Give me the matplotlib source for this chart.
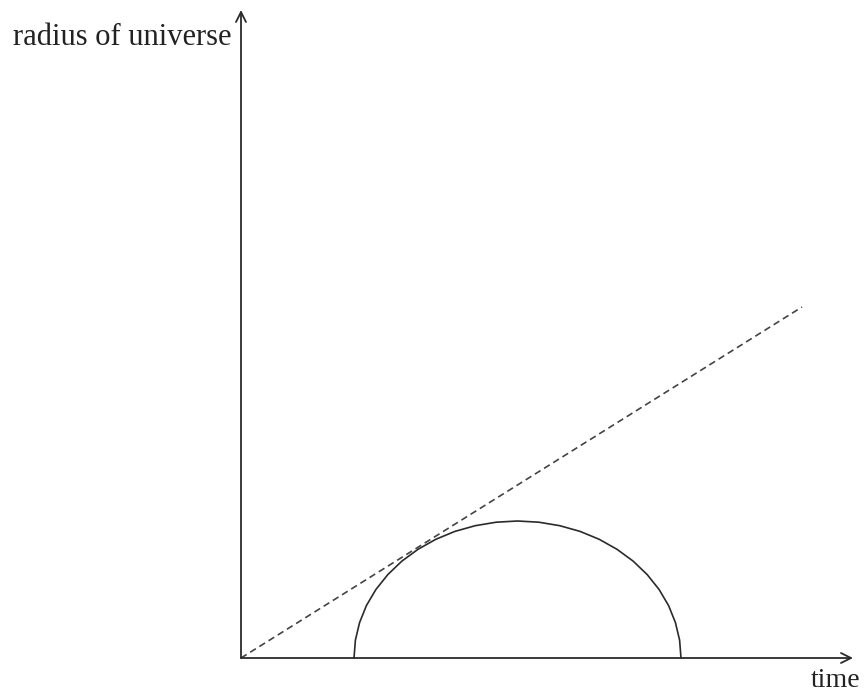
import matplotlib
matplotlib.use('Agg')
import matplotlib.pyplot as plt

# closed-universe curve (time, radius)
curve_t = [11.30, 11.44, 11.86, 12.54, 13.49, 14.68, 16.09, 17.70, 19.48, 21.39,
           23.42, 25.52, 27.65, 29.78, 31.88, 33.91, 35.82, 37.60, 39.21, 40.62,
           41.81, 42.76, 43.44, 43.86, 44.00]
curve_r = [0.00, 1.79, 3.55, 5.24, 6.85, 8.34, 9.69, 10.87, 11.87, 12.66,
           13.23, 13.58, 13.70, 13.58, 13.23, 12.66, 11.87, 10.87, 9.69, 8.34,
           6.85, 5.24, 3.55, 1.79, 0.00]

# dashed line (constant expansion)
line_t = [0.0, 56.1]
line_r = [0.0, 35.1]

x_label = 'time'
y_label = 'radius of universe'

fig = plt.figure(figsize=(8.68, 6.96), dpi=100)
ax = fig.add_axes([0, 0, 1, 1])
ax.set_xlim(-24.1, 62.7)
ax.set_ylim(-3.8, 65.8)
ax.axis('off')

ink = '#2b2b2b'

# axes with arrow heads
ax.annotate('', xy=(61.2, 0), xytext=(0, 0),
            arrowprops=dict(arrowstyle='->', color=ink, lw=1.3,
                            shrinkA=0, shrinkB=0, mutation_scale=18))
ax.annotate('', xy=(0, 64.8), xytext=(0, 0),
            arrowprops=dict(arrowstyle='->', color=ink, lw=1.3,
                            shrinkA=0, shrinkB=0, mutation_scale=18))

ax.plot(curve_t, curve_r, color=ink, lw=1.2, solid_joinstyle='round')
ax.plot(line_t, line_r, color='#444444', lw=1.2, linestyle=(0, (4, 2.5)))

ax.text(-22.8, 61.3, y_label, family='Liberation Serif', fontsize=22,
        color='#222222', ha='left', va='baseline')
ax.text(59.5, -2.9, x_label, family='Liberation Serif', fontsize=20,
        color='#222222', ha='center', va='baseline')

fig.savefig('out.png', dpi=100)
